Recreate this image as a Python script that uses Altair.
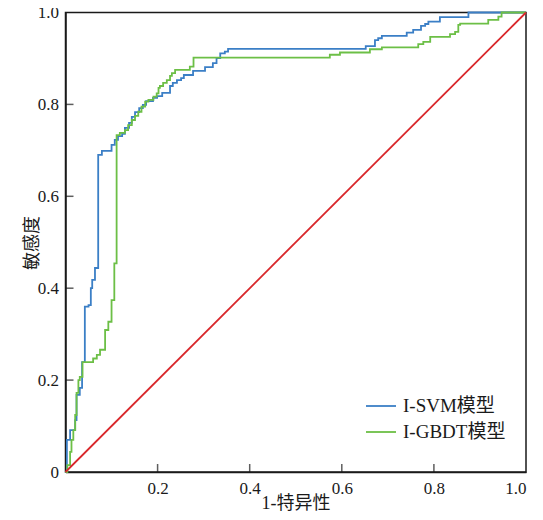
import altair as alt
import pandas as pd

# ROC corner points (tops of each vertical step)
svm_fpr = [0.0, 0.003, 0.010, 0.021, 0.024, 0.031, 0.036, 0.042, 0.050, 0.055, 0.058, 0.064,
           0.071, 0.079, 0.100, 0.107, 0.114, 0.123, 0.129, 0.138, 0.144, 0.151, 0.160, 0.168,
           0.175, 0.190, 0.199, 0.210, 0.227, 0.233, 0.242, 0.251, 0.257, 0.277, 0.303, 0.320,
           0.328, 0.336, 0.346, 0.353, 0.652, 0.672, 0.679, 0.687, 0.741, 0.755, 0.772, 0.781,
           0.788, 0.813, 0.875, 1.0]
svm_tpr = [0.0, 0.070, 0.091, 0.113, 0.168, 0.183, 0.239, 0.360, 0.363, 0.400, 0.418, 0.444,
           0.690, 0.699, 0.712, 0.723, 0.731, 0.736, 0.749, 0.760, 0.773, 0.783, 0.792, 0.799,
           0.807, 0.814, 0.818, 0.825, 0.840, 0.847, 0.853, 0.857, 0.864, 0.873, 0.881, 0.890,
           0.901, 0.911, 0.915, 0.921, 0.927, 0.940, 0.944, 0.949, 0.956, 0.962, 0.971, 0.975,
           0.980, 0.990, 1.0, 1.0]

gbdt_fpr = [0.0, 0.004, 0.010, 0.013, 0.017, 0.021, 0.024, 0.028, 0.031, 0.037, 0.060, 0.068,
            0.075, 0.086, 0.093, 0.100, 0.106, 0.111, 0.118, 0.129, 0.136, 0.144, 0.151, 0.158,
            0.165, 0.173, 0.180, 0.191, 0.198, 0.202, 0.205, 0.212, 0.220, 0.227, 0.231, 0.238,
            0.270, 0.278, 0.574, 0.596, 0.661, 0.687, 0.766, 0.777, 0.792, 0.835, 0.846, 0.853,
            0.857, 0.918, 0.940, 0.947, 1.0]
gbdt_tpr = [0.0, 0.015, 0.044, 0.070, 0.091, 0.124, 0.172, 0.200, 0.207, 0.239, 0.247, 0.255,
            0.266, 0.309, 0.327, 0.374, 0.454, 0.733, 0.738, 0.744, 0.755, 0.766, 0.775, 0.784,
            0.795, 0.806, 0.810, 0.817, 0.824, 0.836, 0.840, 0.847, 0.853, 0.862, 0.868, 0.875,
            0.882, 0.902, 0.908, 0.913, 0.920, 0.924, 0.931, 0.936, 0.947, 0.953, 0.958, 0.973,
            0.976, 0.984, 0.991, 1.0, 1.0]

models = ["I-SVM模型", "I-GBDT模型"]
colors = ["#3b7fc6", "#6cbf46"]
ref_color = "#d9272b"

diag_x = [0.0, 1.0]
diag_y = [0.0, 1.0]

x_tick_vals = [0.2, 0.4, 0.6, 0.8, 1.0]
y_tick_vals = [0.0, 0.2, 0.4, 0.6, 0.8, 1.0]

rows = []
for i, (a, b) in enumerate(zip(svm_fpr, svm_tpr)):
    rows.append({"fpr": a, "tpr": b, "model": models[0], "idx": i})
for i, (a, b) in enumerate(zip(gbdt_fpr, gbdt_tpr)):
    rows.append({"fpr": a, "tpr": b, "model": models[1], "idx": i})
roc = pd.DataFrame(rows)
diag = pd.DataFrame({"fpr": diag_x, "tpr": diag_y})
xticks = pd.DataFrame({"fpr": x_tick_vals[:-1], "tpr": [0.0] * (len(x_tick_vals) - 1)})
yticks = pd.DataFrame({"fpr": [0.0] * (len(y_tick_vals) - 2), "tpr": y_tick_vals[1:-1]})

LAT = "Liberation Serif"
MIX = "Liberation Serif, Noto Sans CJK SC"
INK = "#1a1a1a"
label_expr = "datum.value == 0 ? '0' : format(datum.value, '.1f')"

x_axis = alt.Axis(values=x_tick_vals, labelExpr=label_expr, ticks=False, grid=False,
                  labelPadding=8, labelFont=LAT, labelFontSize=17, labelColor=INK,
                  domainColor=INK, domainWidth=1.5,
                  titleFont=MIX, titleFontSize=18, titleFontWeight="normal", titleColor=INK,
                  titleX=230, titleY=31, titleAlign="center", titleBaseline="middle")
y_axis = alt.Axis(values=y_tick_vals, labelExpr=label_expr, ticks=False, grid=False,
                  labelPadding=7, labelFont=LAT, labelFontSize=17, labelColor=INK,
                  domainColor=INK, domainWidth=1.5,
                  titleFont=MIX, titleFontSize=18, titleFontWeight="normal", titleColor=INK,
                  titleX=-33, titleY=230, titleAngle=-90, titleAlign="center",
                  titleBaseline="middle")

xs = alt.Scale(domain=[0, 1], nice=False, zero=False)
ys = alt.Scale(domain=[0, 1], nice=False, zero=False)


def X():
    return alt.X("fpr:Q", scale=xs, axis=x_axis, title="1-特异性")


def Y():
    return alt.Y("tpr:Q", scale=ys, axis=y_axis, title="敏感度")


lines = alt.Chart(roc).mark_line(interpolate="step-after", strokeWidth=1.8).encode(
    x=X(), y=Y(),
    color=alt.Color("model:N", scale=alt.Scale(domain=models, range=colors),
                    sort=models,
                    legend=alt.Legend(orient="none", legendX=299.5, legendY=377.5, title=None,
                                      symbolType="stroke", symbolSize=900,
                                      symbolStrokeWidth=1.8, labelFont=MIX,
                                      labelFontSize=19, labelColor=INK, labelOffset=6,
                                      rowPadding=-2)),
    order="idx:Q",
)

ref = alt.Chart(diag).mark_line(color=ref_color, strokeWidth=1.8).encode(x=X(), y=Y())

xt = alt.Chart(xticks).mark_tick(orient="vertical", size=8, thickness=1.5, color=INK,
                                 yOffset=-4).encode(x=X(), y=Y())
yt = alt.Chart(yticks).mark_tick(orient="horizontal", size=8, thickness=1.5, color=INK,
                                 xOffset=4).encode(x=X(), y=Y())

chart = alt.layer(lines, ref, xt, yt).properties(
    width=460.5, height=459.5,
    autosize=alt.AutoSizeParams(type="none"),
    padding={"left": 57.5, "top": 4.5, "right": 9, "bottom": 40},
    background="white",
).configure_view(stroke=INK, strokeWidth=1.5)

chart.save("out.html", embed_options={"renderer": "svg", "actions": False})
